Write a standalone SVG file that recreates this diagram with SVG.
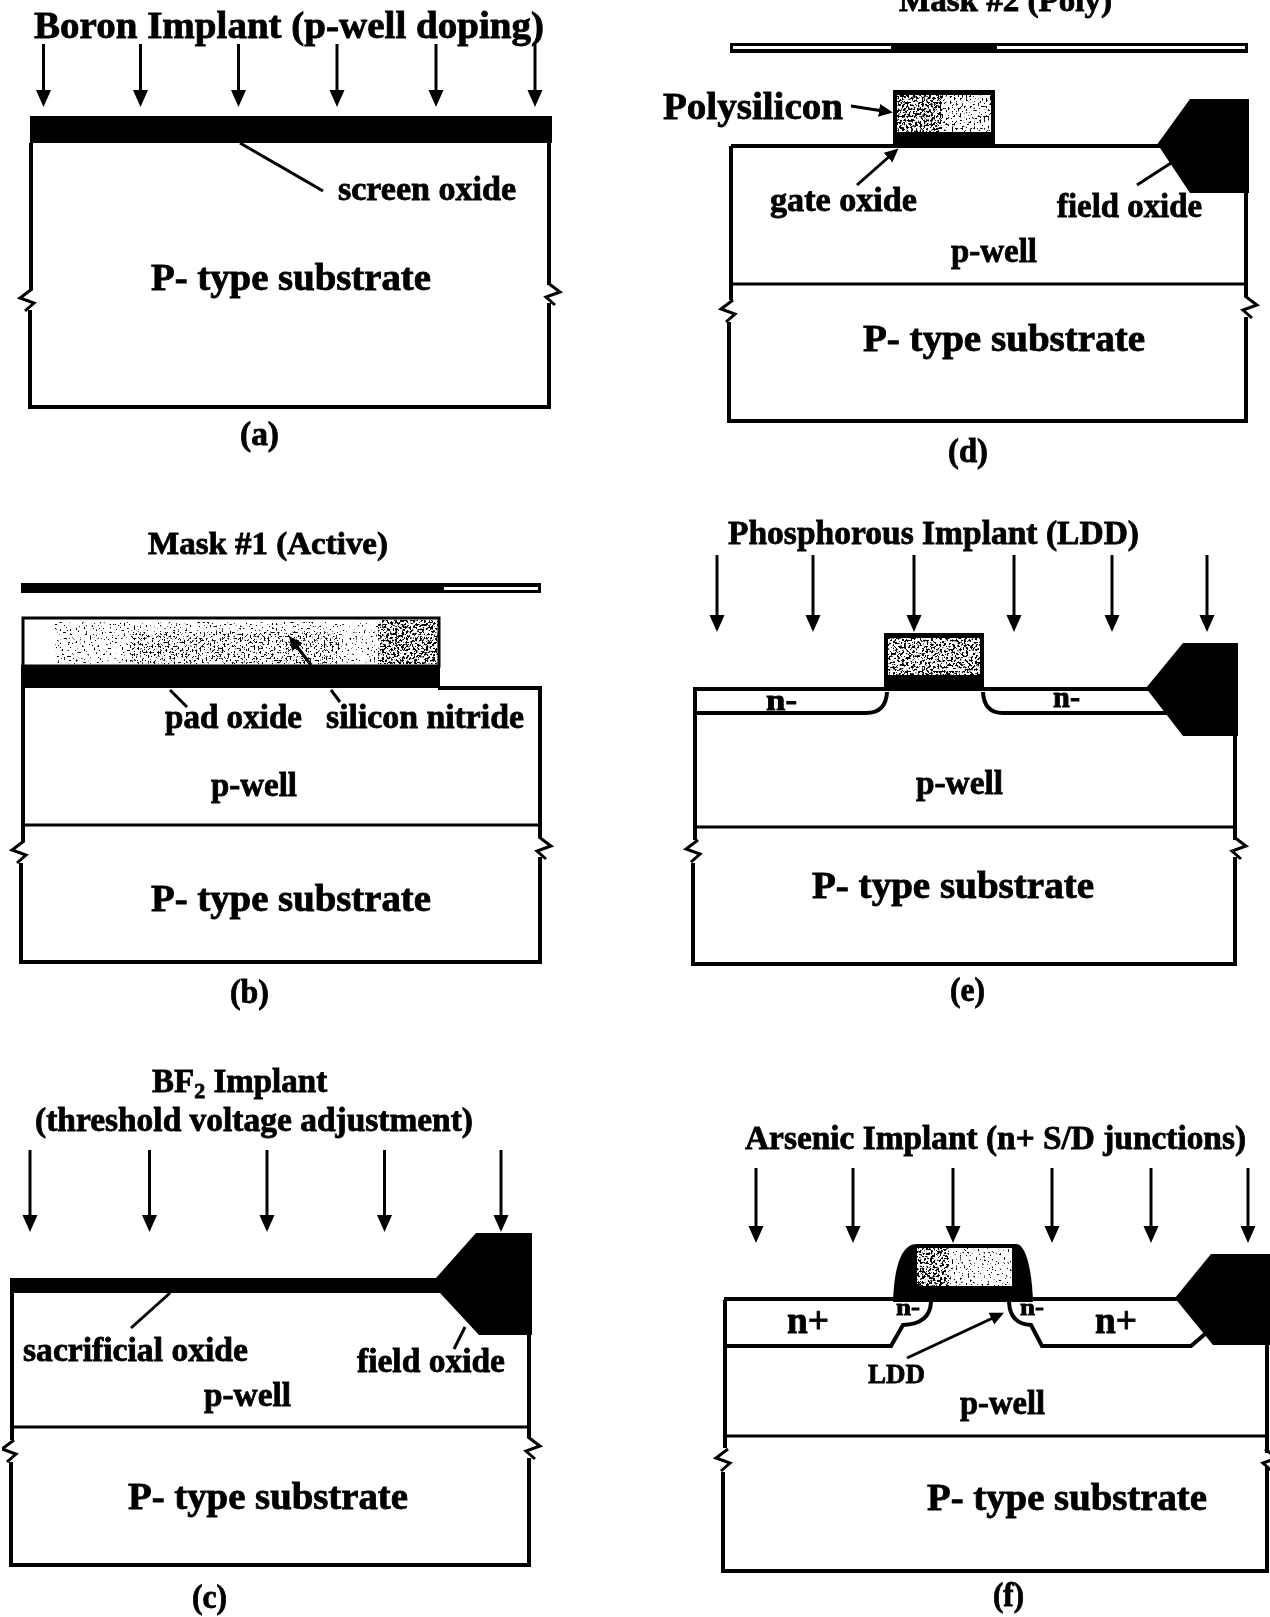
<svg xmlns="http://www.w3.org/2000/svg" width="1270" height="1617" viewBox="0 0 1270 1617">
<style>
text{font-family:"Liberation Serif","Times New Roman",serif;font-weight:700;fill:#000;stroke:#000;stroke-width:.8}
.box{fill:none;stroke:#000;stroke-width:4}
.div{fill:none;stroke:#000;stroke-width:3}
.blk{fill:#000;stroke:none}
.wht{fill:#fff;stroke:none}
.imp{stroke:#000;stroke-width:3;fill:none;marker-end:url(#head)}
.ldr{stroke:#000;stroke-width:3;fill:none}
.lda{stroke:#000;stroke-width:3;fill:none;marker-end:url(#small)}
.brk{fill:none;stroke:#000;stroke-width:3}
</style>
<defs>
<marker id="head" markerUnits="userSpaceOnUse" markerWidth="18" markerHeight="16" refX="6" refY="7.5" orient="auto"><path d="M0 0L17 7.5L0 15Z" fill="#000"/></marker>
<marker id="small" markerUnits="userSpaceOnUse" markerWidth="16" markerHeight="14" refX="4" refY="6.5" orient="auto"><path d="M0 0L14 6.5L0 13Z" fill="#000"/></marker>
<filter id="soft" x="0" y="0" width="1" height="1"><feGaussianBlur stdDeviation=".45"/></filter>
<filter id="st1" x="0" y="0" width="1" height="1" color-interpolation-filters="sRGB"><feTurbulence type="fractalNoise" baseFrequency=".5" numOctaves="2" seed="4"/><feColorMatrix values="0 0 0 0 0 0 0 0 0 0 0 0 0 0 0 14 0 0 0 -9.1"/><feComposite in2="SourceGraphic" operator="in"/></filter>
<filter id="st2" x="0" y="0" width="1" height="1" color-interpolation-filters="sRGB"><feTurbulence type="fractalNoise" baseFrequency=".5" numOctaves="2" seed="9"/><feColorMatrix values="0 0 0 0 0 0 0 0 0 0 0 0 0 0 0 14 0 0 0 -8.2"/><feComposite in2="SourceGraphic" operator="in"/></filter>
<filter id="st3" x="0" y="0" width="1" height="1" color-interpolation-filters="sRGB"><feTurbulence type="fractalNoise" baseFrequency=".45" numOctaves="2" seed="2"/><feColorMatrix values="0 0 0 0 0 0 0 0 0 0 0 0 0 0 0 14 0 0 0 -7.2"/><feComposite in2="SourceGraphic" operator="in"/></filter>
<g id="bk"><path class="wht" d="M-3-7H3V7H-3Z"/><path class="brk" d="M2-11L-10-2L4 3L-5 11"/></g>
</defs>
<rect width="1270" height="1617" fill="#fff"/>
<g filter="url(#soft)">

<g id="panel-a">
<path class="box" d="M31 143V290M30 310V407H549V303M549 285V143"/>
<rect class="blk" x="30" y="116" width="522" height="27"/>
<use href="#bk" x="30" y="300"/>
<use href="#bk" transform="translate(550 294) scale(-1 1)"/>
<text x="34" y="38" font-size="37" textLength="510" lengthAdjust="spacingAndGlyphs">Boron Implant (p-well doping)</text>
<text x="338" y="200" font-size="33" textLength="178" lengthAdjust="spacingAndGlyphs">screen oxide</text>
<text x="151" y="290" font-size="37" textLength="280" lengthAdjust="spacingAndGlyphs">P- type substrate</text>
<text x="240" y="445" font-size="33" textLength="39" lengthAdjust="spacingAndGlyphs">(a)</text>
</g>

<g id="panel-b">
<path class="box" d="M23 688V842M21 863V962H540V857M540 838V688H438"/>
<path class="div" d="M22 825H540"/>
<rect class="blk" x="21" y="583" width="520" height="10"/>
<rect class="wht" x="444" y="587" width="94" height="3"/>
<rect class="box" x="23" y="618" width="416" height="48" style="stroke-width:3"/>
<rect x="55" y="622" width="378" height="42" filter="url(#st1)"/>
<rect x="130" y="632" width="210" height="32" filter="url(#st2)"/>
<rect x="378" y="620" width="60" height="44" filter="url(#st3)"/>
<rect class="blk" x="21" y="665" width="419" height="23"/>
<use href="#bk" x="22" y="852"/>
<use href="#bk" transform="translate(541 848) scale(-1 1)"/>
<text x="148" y="554" font-size="32" textLength="240" lengthAdjust="spacingAndGlyphs">Mask #1 (Active)</text>
<text x="165" y="728" font-size="33" textLength="137" lengthAdjust="spacingAndGlyphs">pad oxide</text>
<text x="326" y="728" font-size="33" textLength="198" lengthAdjust="spacingAndGlyphs">silicon nitride</text>
<text x="211" y="796" font-size="33" textLength="86" lengthAdjust="spacingAndGlyphs">p-well</text>
<text x="151" y="911" font-size="37" textLength="280" lengthAdjust="spacingAndGlyphs">P- type substrate</text>
<text x="230" y="1003" font-size="33" textLength="39" lengthAdjust="spacingAndGlyphs">(b)</text>
</g>

<g id="panel-c">
<path class="box" d="M12 1293V1440M11 1462V1565H529V1458M529 1438V1335"/>
<path class="div" d="M12 1427H529"/>
<path class="blk" d="M10 1278H436L476 1233H532V1335H479L440 1293H10Z"/>
<use href="#bk" x="12" y="1451"/>
<use href="#bk" transform="translate(530 1448) scale(-1 1)"/>
<text x="152" y="1092" font-size="33">BF<tspan font-size="22" dy="6">2</tspan><tspan dy="-6"> Implant</tspan></text>
<text x="35" y="1131" font-size="33" textLength="438" lengthAdjust="spacingAndGlyphs">(threshold voltage adjustment)</text>
<text x="23" y="1361" font-size="33" textLength="225" lengthAdjust="spacingAndGlyphs">sacrificial oxide</text>
<text x="357" y="1372" font-size="33" textLength="148" lengthAdjust="spacingAndGlyphs">field oxide</text>
<text x="204" y="1406" font-size="33" textLength="87" lengthAdjust="spacingAndGlyphs">p-well</text>
<text x="128" y="1509" font-size="37" textLength="280" lengthAdjust="spacingAndGlyphs">P- type substrate</text>
<text x="192" y="1608" font-size="33" textLength="35" lengthAdjust="spacingAndGlyphs">(c)</text>
</g>

<g id="panel-d">
<path class="box" d="M731 146V300M729 322V421H1246V317M1246 297V193"/>
<path class="box" d="M731 146H1160"/>
<path class="div" d="M730 284H1246"/>
<rect class="blk" x="730" y="43" width="518" height="10"/>
<rect class="wht" x="733" y="46" width="158" height="3"/>
<rect class="wht" x="997" y="46" width="248" height="3"/>
<rect class="blk" x="893" y="90" width="102" height="58"/>
<rect class="wht" x="897" y="95" width="94" height="37"/>
<rect x="897" y="95" width="94" height="37" filter="url(#st2)"/>
<rect x="897" y="95" width="45" height="37" filter="url(#st3)"/>
<path class="blk" d="M1156 146L1190 99H1249V193H1190L1160 148Z"/>
<use href="#bk" x="731" y="311"/>
<use href="#bk" transform="translate(1247 307) scale(-1 1)"/>
<text x="899" y="11" font-size="32" textLength="213" lengthAdjust="spacingAndGlyphs">Mask #2 (Poly)</text>
<text x="663" y="119" font-size="38" textLength="180" lengthAdjust="spacingAndGlyphs">Polysilicon</text>
<text x="770" y="211" font-size="33" textLength="147" lengthAdjust="spacingAndGlyphs">gate oxide</text>
<text x="1057" y="217" font-size="33" textLength="145" lengthAdjust="spacingAndGlyphs">field oxide</text>
<text x="951" y="262" font-size="33" textLength="86" lengthAdjust="spacingAndGlyphs">p-well</text>
<text x="863" y="351" font-size="37" textLength="282" lengthAdjust="spacingAndGlyphs">P- type substrate</text>
<text x="948" y="462" font-size="33" textLength="40" lengthAdjust="spacingAndGlyphs">(d)</text>
</g>

<g id="panel-e">
<path class="box" d="M695 690V840M693 863V964H1235V857M1235 840V736"/>
<path class="box" d="M693 689H886M983 689H1149"/>
<path class="div" d="M694 827H1235"/>
<path class="box" d="M694 713H866Q886 713 887 692M983 692Q984 713 1003 713H1170"/>
<rect class="blk" x="884" y="633" width="100" height="58"/>
<rect class="wht" x="888" y="638" width="92" height="37"/>
<rect x="888" y="638" width="92" height="37" filter="url(#st3)"/>
<path class="blk" d="M1146 688L1183 643H1238V736H1183L1149 692Z"/>
<use href="#bk" x="696" y="851"/>
<use href="#bk" transform="translate(1236 848) scale(-1 1)"/>
<text x="728" y="544" font-size="33" textLength="411" lengthAdjust="spacingAndGlyphs">Phosphorous Implant (LDD)</text>
<text x="766" y="710" font-size="30" textLength="31" lengthAdjust="spacingAndGlyphs">n-</text>
<text x="1053" y="707" font-size="30" textLength="27" lengthAdjust="spacingAndGlyphs">n-</text>
<text x="916" y="794" font-size="33" textLength="87" lengthAdjust="spacingAndGlyphs">p-well</text>
<text x="812" y="898" font-size="37" textLength="282" lengthAdjust="spacingAndGlyphs">P- type substrate</text>
<text x="950" y="1001" font-size="33" textLength="35" lengthAdjust="spacingAndGlyphs">(e)</text>
</g>

<g id="panel-f">
<path class="box" d="M725 1300V1448M723 1472V1571H1267V1345"/>
<path class="box" d="M724 1299H895M1031 1299H1178"/>
<path class="div" d="M725 1436H1267"/>
<path class="box" d="M725 1346H891L903 1325Q930 1324 931 1302M1009 1302Q1010 1324 1031 1325L1042 1346H1191L1205 1334"/>
<path class="blk" d="M893 1302C894 1270 900 1244 917 1244H1016C1026 1244 1032 1270 1033 1302Z"/>
<rect class="wht" x="917" y="1248" width="95" height="38"/>
<rect x="917" y="1248" width="95" height="38" filter="url(#st1)"/>
<rect x="917" y="1248" width="32" height="38" filter="url(#st3)"/>
<path class="blk" d="M1175 1298L1211 1254H1270V1345H1213L1178 1302Z"/>
<use href="#bk" x="726" y="1460"/>
<use href="#bk" transform="translate(1267 1460) scale(-1 1)"/>
<text x="745" y="1149" font-size="33" textLength="501" lengthAdjust="spacingAndGlyphs">Arsenic Implant (n+ S/D junctions)</text>
<text x="787" y="1333" font-size="37" textLength="42" lengthAdjust="spacingAndGlyphs">n+</text>
<text x="1095" y="1333" font-size="37" textLength="42" lengthAdjust="spacingAndGlyphs">n+</text>
<text x="896" y="1315" font-size="24" textLength="24" lengthAdjust="spacingAndGlyphs">n-</text>
<text x="1020" y="1315" font-size="24" textLength="24" lengthAdjust="spacingAndGlyphs">n-</text>
<text x="868" y="1383" font-size="27" textLength="57" lengthAdjust="spacingAndGlyphs">LDD</text>
<text x="960" y="1414" font-size="33" textLength="85" lengthAdjust="spacingAndGlyphs">p-well</text>
<text x="927" y="1510" font-size="37" textLength="280" lengthAdjust="spacingAndGlyphs">P- type substrate</text>
<text x="993" y="1606" font-size="33" textLength="31" lengthAdjust="spacingAndGlyphs">(f)</text>
</g>

<g id="connectors">
<path class="imp" d="M43.500 44V96"/><path class="imp" d="M140.500 44V96"/><path class="imp" d="M238.500 44V96"/><path class="imp" d="M337 44V96"/><path class="imp" d="M436 44V96"/><path class="imp" d="M535 44V96"/>
<path class="ldr" d="M240 143L323 191"/>
<path class="lda" d="M311 665L295 644"/><path class="ldr" d="M331 690L340 702"/><path class="ldr" d="M170 690L187 707"/>
<path class="imp" d="M30 1150V1221"/><path class="imp" d="M149.500 1150V1221"/><path class="imp" d="M267 1150V1221"/><path class="imp" d="M384.500 1150V1221"/><path class="imp" d="M501 1150V1221"/>
<path class="ldr" d="M131 1328L170 1293"/><path class="ldr" d="M454 1349L465 1327"/>
<path class="lda" d="M851 106L883 111"/><path class="lda" d="M857 185L891 155"/><path class="ldr" d="M1137 185L1171 163"/>
<path class="imp" d="M717 555V621"/><path class="imp" d="M813 555V621"/><path class="imp" d="M914 555V621"/><path class="imp" d="M1014 555V621"/><path class="imp" d="M1112 555V621"/><path class="imp" d="M1207 555V621"/>
<path class="imp" d="M756 1168V1232"/><path class="imp" d="M853 1168V1232"/><path class="imp" d="M953 1168V1232"/><path class="imp" d="M1052 1168V1232"/><path class="imp" d="M1151 1168V1232"/><path class="imp" d="M1248 1168V1232"/>
<path class="lda" d="M907 1358L995 1317"/>
</g>
</g>
</svg>
